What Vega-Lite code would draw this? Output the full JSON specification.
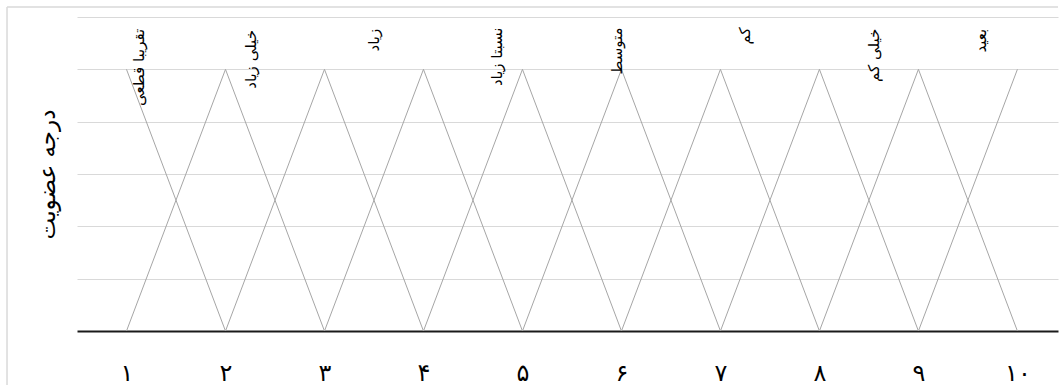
{
  "$schema": "https://vega.github.io/schema/vega-lite/v6.json",
  "autosize": "none",
  "width": 981,
  "height": 314,
  "padding": {"left": 77, "top": 17, "right": 1, "bottom": 54},
  "background": "white",
  "config": {
    "view": {"stroke": null},
    "font": "DejaVu Sans"
  },
  "datasets": {
    "lines": [
      {"series": "s1", "x": 1, "y": 1}, {"series": "s1", "x": 2, "y": 0},
      {"series": "s2", "x": 1, "y": 0}, {"series": "s2", "x": 2, "y": 1}, {"series": "s2", "x": 3, "y": 0},
      {"series": "s3", "x": 2, "y": 0}, {"series": "s3", "x": 3, "y": 1}, {"series": "s3", "x": 4, "y": 0},
      {"series": "s4", "x": 3, "y": 0}, {"series": "s4", "x": 4, "y": 1}, {"series": "s4", "x": 5, "y": 0},
      {"series": "s5", "x": 4, "y": 0}, {"series": "s5", "x": 5, "y": 1}, {"series": "s5", "x": 6, "y": 0},
      {"series": "s6", "x": 5, "y": 0}, {"series": "s6", "x": 6, "y": 1}, {"series": "s6", "x": 7, "y": 0},
      {"series": "s7", "x": 6, "y": 0}, {"series": "s7", "x": 7, "y": 1}, {"series": "s7", "x": 8, "y": 0},
      {"series": "s8", "x": 7, "y": 0}, {"series": "s8", "x": 8, "y": 1}, {"series": "s8", "x": 9, "y": 0},
      {"series": "s9", "x": 8, "y": 0}, {"series": "s9", "x": 9, "y": 1}, {"series": "s9", "x": 10, "y": 0},
      {"series": "s10", "x": 9, "y": 0}, {"series": "s10", "x": 10, "y": 1}
    ],
    "labels": [
      {"label": "تقریبا قطعی", "x": 1.13, "y": 1.155},
      {"label": "خیلی زیاد", "x": 2.26, "y": 1.15},
      {"label": "زیاد", "x": 3.5, "y": 1.155},
      {"label": "نسبتا زیاد", "x": 4.74, "y": 1.16},
      {"label": "متوسط", "x": 5.95, "y": 1.16},
      {"label": "کم", "x": 7.25, "y": 1.16},
      {"label": "خیلی کم", "x": 8.55, "y": 1.155},
      {"label": "بعید", "x": 9.63, "y": 1.155}
    ]
  },
  "layer": [
    {
      "data": {"name": "lines"},
      "mark": {"type": "line", "color": "#a6a6a6", "strokeWidth": 1},
      "encoding": {
        "x": {
          "field": "x", "type": "quantitative",
          "scale": {"domain": [0.5, 10.41], "nice": false, "zero": false},
          "axis": {
            "values": [1, 2, 3, 4, 5, 6, 7, 8, 9, 10],
            "labelExpr": "['','۱','۲','۳','۴','۵','۶','۷','۸','۹','۱۰'][datum.value]",
            "title": null, "grid": false, "ticks": false,
            "domainColor": "#1a1a1a", "domainWidth": 2,
            "labelFontSize": 24, "labelColor": "#000000", "labelPadding": 30,
            "labelFont": "DejaVu Sans"
          }
        },
        "y": {
          "field": "y", "type": "quantitative",
          "scale": {"domain": [0, 1.2], "nice": false},
          "axis": {
            "values": [0.2, 0.4, 0.6, 0.8, 1.0, 1.2],
            "labels": false, "ticks": false, "domain": false,
            "grid": true, "gridColor": "#d9d9d9", "gridWidth": 1,
            "title": "درجه عضویت", "titleFontSize": 23, "titleFontWeight": "normal",
            "titleColor": "#000000", "titlePadding": 18, "titleFont": "DejaVu Sans"
          }
        },
        "detail": {"field": "series"}
      }
    },
    {
      "data": {"name": "labels"},
      "mark": {"type": "text", "angle": 270, "align": "right", "baseline": "middle", "fontSize": 15, "color": "#000000"},
      "encoding": {
        "x": {"field": "x", "type": "quantitative"},
        "y": {"field": "y", "type": "quantitative"},
        "text": {"field": "label"}
      }
    },
    {
      "data": {"values": [{}]},
      "mark": {"type": "rule", "color": "#d9d9d9", "strokeWidth": 1.5, "clip": false},
      "encoding": {
        "x": {"datum": -0.207, "type": "quantitative"},
        "y": {"datum": 1.238, "type": "quantitative"},
        "y2": {"datum": -0.4}
      }
    },
    {
      "data": {"values": [{}]},
      "mark": {"type": "rule", "color": "#d9d9d9", "strokeWidth": 1.5, "clip": false},
      "encoding": {
        "x": {"datum": -0.207, "type": "quantitative"},
        "x2": {"datum": 10.41},
        "y": {"datum": 1.238, "type": "quantitative"}
      }
    }
  ]
}
